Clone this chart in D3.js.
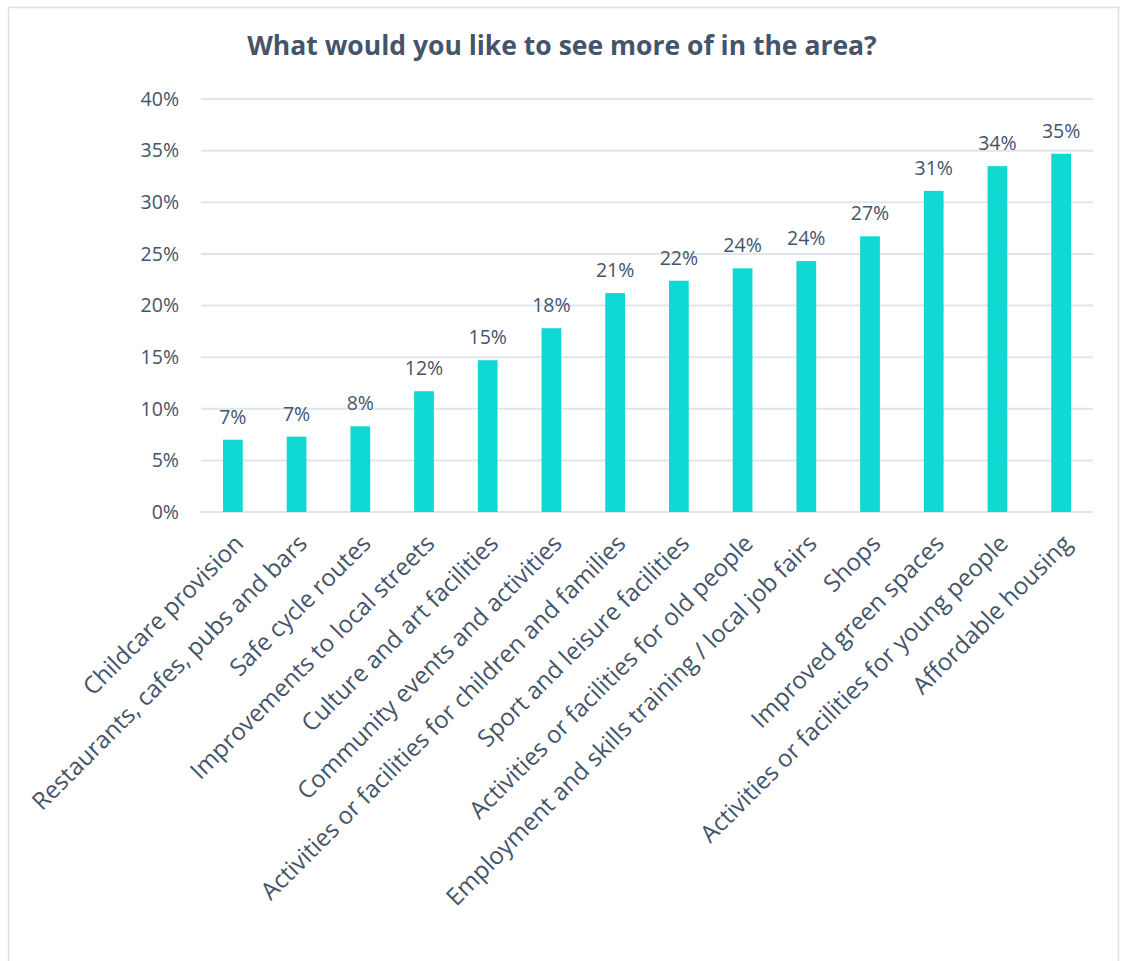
<!DOCTYPE html>
<html>
<head>
<meta charset="utf-8">
<script src="https://cdn.jsdelivr.net/npm/d3@7"></script>
<style>
  html, body { margin: 0; padding: 0; background: #ffffff; }
  svg { display: block; }
</style>
</head>
<body>
<svg id="chart" width="1123" height="961"></svg>
<script>
// Survey responses: share of respondents wanting more of each amenity
const categories = [
  "Childcare provision",
  "Restaurants, cafes, pubs and bars",
  "Safe cycle routes",
  "Improvements to local streets",
  "Culture and art facilities",
  "Community events and activities",
  "Activities or facilities for children and families",
  "Sport and leisure facilities",
  "Activities or facilities for old people",
  "Employment and skills training / local job fairs",
  "Shops",
  "Improved green spaces",
  "Activities or facilities for young people",
  "Affordable housing"
];
const values = [7.0, 7.3, 8.3, 11.7, 14.7, 17.8, 21.2, 22.4, 23.6, 24.3, 26.7, 31.1, 33.5, 34.7];
const yTicks = [0, 5, 10, 15, 20, 25, 30, 35, 40];
const title = "What would you like to see more of in the area?";

const textColor = "#44546A";
const barColor = "#10D9D3";
const gridColor = "#E1E5EB";
const font = "'Open Sans', 'DejaVu Sans', sans-serif";

const svg = d3.select("#chart");

// outer frame
svg.append("rect")
  .attr("x", 8.5).attr("y", 7.5)
  .attr("width", 1110).attr("height", 970)
  .attr("fill", "none")
  .attr("stroke", "#DADFE6")
  .attr("stroke-width", 1.5);

const plot = { left: 201, right: 1093, top: 99, bottom: 512 };

const x = d3.scaleBand()
  .domain(categories)
  .range([plot.left, plot.right])
  .paddingInner(0.69)
  .paddingOuter(0.345);

const y = d3.scaleLinear()
  .domain([0, 40])
  .range([plot.bottom, plot.top]);

// title
svg.append("text")
  .attr("x", 562).attr("y", 55)
  .attr("text-anchor", "middle")
  .attr("font-family", font)
  .attr("font-weight", "bold")
  .attr("font-size", 26.5)
  .attr("fill", textColor)
  .text(title);

// gridlines
svg.append("g")
  .selectAll("line")
  .data(yTicks)
  .join("line")
  .attr("x1", plot.left).attr("x2", plot.right)
  .attr("y1", d => y(d)).attr("y2", d => y(d))
  .attr("stroke", gridColor)
  .attr("stroke-width", 2);

// y axis labels
const yAxis = d3.axisLeft(y)
  .tickValues(yTicks)
  .tickFormat(d => d + "%")
  .tickSize(0)
  .tickPadding(22);
const yg = svg.append("g")
  .attr("transform", `translate(${plot.left},0)`)
  .call(yAxis);
yg.select(".domain").remove();
yg.selectAll("text")
  .attr("font-family", font)
  .attr("font-size", 19.5)
  .attr("fill", textColor);

// bars
svg.append("g")
  .selectAll("rect")
  .data(values)
  .join("rect")
  .attr("x", (d, i) => x(categories[i]))
  .attr("y", d => y(d))
  .attr("width", x.bandwidth())
  .attr("height", d => y(0) - y(d))
  .attr("fill", barColor);

// value labels
svg.append("g")
  .selectAll("text")
  .data(values)
  .join("text")
  .attr("x", (d, i) => x(categories[i]) + x.bandwidth() / 2)
  .attr("y", d => y(d) - 16)
  .attr("text-anchor", "middle")
  .attr("font-family", font)
  .attr("font-size", 19.5)
  .attr("fill", textColor)
  .text(d => Math.round(d) + "%");

// x axis labels, rotated
const xAxis = d3.axisBottom(x).tickSize(0).tickPadding(0);
const xg = svg.append("g")
  .attr("transform", `translate(0,${plot.bottom})`)
  .call(xAxis);
xg.select(".domain").remove();
xg.selectAll("text")
  .attr("font-family", font)
  .attr("font-size", 24)
  .attr("fill", textColor)
  .attr("text-anchor", "end")
  .attr("dy", "0")
  .attr("transform", "translate(12,33) rotate(-45)");
</script>
</body>
</html>
